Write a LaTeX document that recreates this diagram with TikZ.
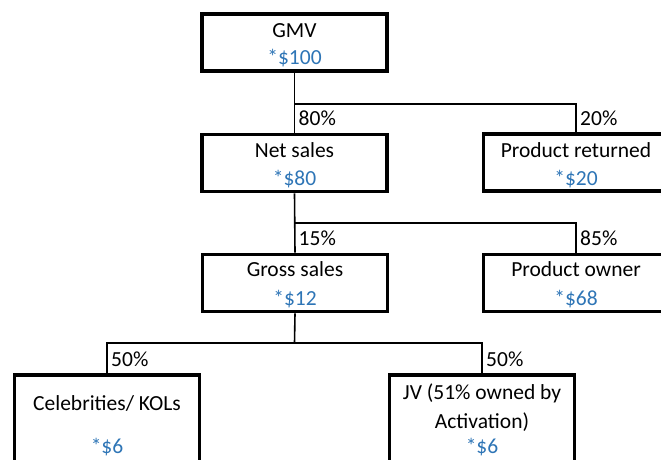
\documentclass[tikz,border=0pt]{standalone}
\usepackage{fontspec}
\setmainfont{Carlito}
\definecolor{valblue}{RGB}{46,117,182}
\begin{document}
\begin{tikzpicture}[x=1pt,y=-1pt,
  box/.style={draw, line width=3.6pt, minimum width=185pt, minimum height=57pt, inner sep=0pt},
  tallbox/.style={box, minimum height=140pt},
  link/.style={line width=1.6pt},
  txt/.style={font=\fontsize{21.5}{26}\selectfont, anchor=base, inner sep=0pt},
  val/.style={txt, text=valblue},
  pct/.style={font=\fontsize{21.5}{26}\selectfont, anchor=base west, inner sep=0pt}]
\useasboundingbox (0,0) rectangle (661,459);
\clip (0,0) rectangle (661,459);
% boxes
\node[box] (gmv) at (294.5,42.5) {};
\node[box] (net) at (294.5,163) {};
\node[box] (ret) at (576,162.5) {};
\node[box] (gross) at (295,283) {};
\node[box] (owner) at (576,283) {};
\node[tallbox] (celeb) at (107,445) {};
\node[tallbox] (jv) at (482,445) {};
% texts
\node[txt] (tg) at (294.5,37) {GMV};
\node[val] (vg) at (294.5,64) {*\$100};
\node[txt] (tn) at (294.5,157) {Net sales};
\node[val] (vn) at (294.5,185) {*\$80};
\node[txt] (tr) at (576,157) {Product returned};
\node[val] (vr) at (576,185) {*\$20};
\node[txt] (tgs) at (295,276) {Gross sales};
\node[val] (vgs) at (295,305) {*\$12};
\node[txt] (to) at (576,276) {Product owner};
\node[val] (vo) at (576,305) {*\$68};
\node[txt] (tc) at (107,410) {Celebrities/ KOLs};
\node[val] (vc) at (107,453.5) {*\$6};
\node[txt] (tj1) at (482,399) {JV (51\% owned by};
\node[txt] (tj2) at (482,428) {Activation)};
\node[val] (vj) at (482,453.5) {*\$6};
% junctions
\coordinate (j1) at (294.5,104);
\coordinate (j2) at (294.5,223);
\coordinate (j3) at (294.5,343);
% connectors
\draw[link] (gmv.south) -- (net.north);
\draw[link] (j1) -| (ret.north);
\draw[link] (net.south) -- (gross.north);
\draw[link] (j2) -| (owner.north);
\draw[link] (gross.south) -- (j3);
\draw[link] (celeb.north) |- (j3) -| (jv.north);
% percentages
\node[pct] (p80) at (298.5,125) {80\%};
\node[pct] (p20) at (580,125) {20\%};
\node[pct] (p15) at (298.5,245) {15\%};
\node[pct] (p85) at (580,245) {85\%};
\node[pct] (p50a) at (111,366) {50\%};
\node[pct] (p50b) at (486,366) {50\%};
\end{tikzpicture}
\end{document}
